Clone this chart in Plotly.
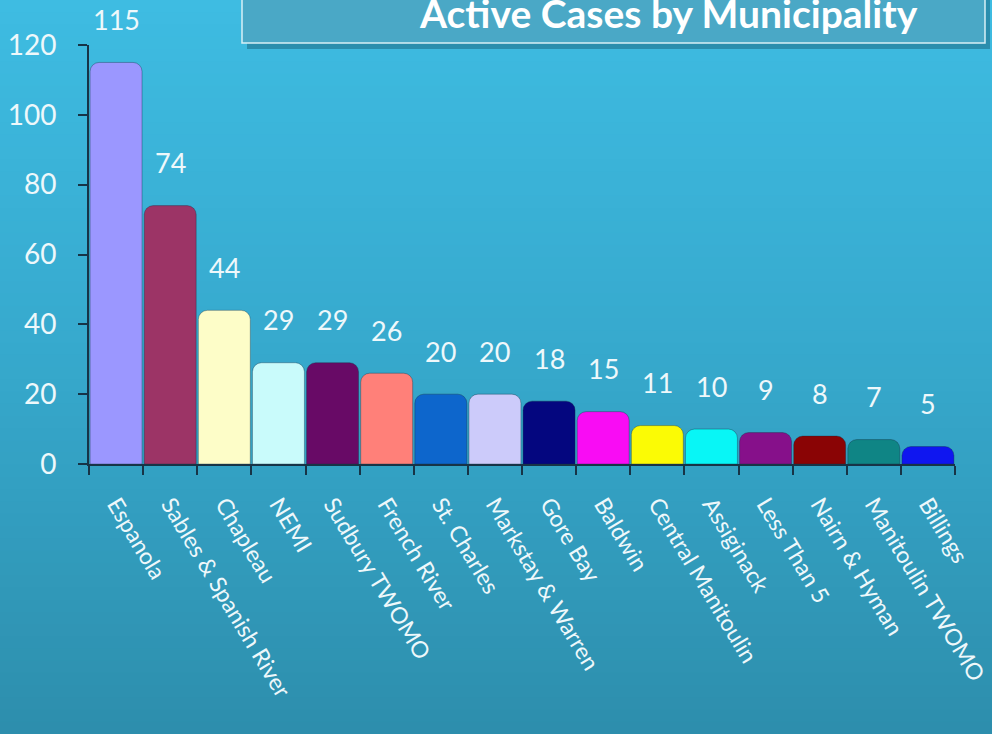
import plotly.graph_objects as go

municipalities = ["Espanola", "Sables & Spanish River", "Chapleau", "NEMI", "Sudbury TWOMO",
                  "French River", "St. Charles", "Markstay & Warren", "Gore Bay", "Baldwin",
                  "Central Manitoulin", "Assiginack", "Less Than 5", "Nairn & Hyman",
                  "Manitoulin TWOMO", "Billings"]
active_cases = [115, 74, 44, 29, 29, 26, 20, 20, 18, 15, 11, 10, 9, 8, 7, 5]
bar_colors = ["#9b97ff", "#9c3466", "#fdfdc8", "#c9fbfb", "#680a66", "#ff8079", "#0d66cc",
              "#cccbfa", "#04067f", "#f90cf4", "#fbfb05", "#08f6f6", "#86108a", "#8a0405",
              "#0f8585", "#0f16f0"]
y_ticks = [0, 20, 40, 60, 80, 100, 120]
title_text = "Active Cases by Municipality"

W, H = 992, 734
ml, mr, mt, mb = 89, 37, 45, 270
pw, ph = W - ml - mr, H - mt - mb

def px_x(px):
    return (px - ml) / pw

def px_y(py):
    return (H - mb - py) / ph

fig = go.Figure()
fig.add_trace(go.Bar(
    x=municipalities, y=active_cases,
    marker=dict(color=bar_colors, line=dict(color="rgba(20,40,60,0.35)", width=1), cornerradius=9),
    hoverinfo="x+y",
))

annotations = []
for m, v in zip(municipalities, active_cases):
    annotations.append(dict(x=m, y=v, text=str(v), showarrow=False, yshift=43,
                            font=dict(family="Lato", size=27, color="#eef8fb")))

annotations.append(dict(xref="paper", yref="paper", x=px_x(668), y=px_y(13), text="<b>" + title_text + "</b>",
                        showarrow=False, font=dict(family="Lato", size=39, color="#ffffff"),
                        xanchor="center", yanchor="middle"))

shapes = []
n = 60
stops = [(0.0, (62, 188, 226)), (0.5, (54, 168, 204)), (1.0, (45, 142, 172))]

def col(t):
    for i in range(len(stops) - 1):
        t0, c0 = stops[i]
        t1, c1 = stops[i + 1]
        if t <= t1:
            f = (t - t0) / (t1 - t0)
            return "rgb(%d,%d,%d)" % tuple(round(a + (b - a) * f) for a, b in zip(c0, c1))
    return "rgb(%d,%d,%d)" % stops[-1][1]

for i in range(n):
    y0 = i * H / n
    y1 = (i + 1) * H / n + 1
    shapes.append(dict(type="rect", xref="paper", yref="paper", layer="below",
                       x0=px_x(-2), x1=px_x(W + 2), y0=px_y(y1), y1=px_y(y0),
                       line=dict(width=0), fillcolor=col((i + 0.5) / n)))

shapes.append(dict(type="rect", xref="paper", yref="paper", layer="below",
                   x0=px_x(247), x1=px_x(990), y0=px_y(49), y1=px_y(-5),
                   line=dict(width=0), fillcolor="rgba(10,60,80,0.35)"))
shapes.append(dict(type="rect", xref="paper", yref="paper", layer="below",
                   x0=px_x(242), x1=px_x(985), y0=px_y(43), y1=px_y(-5),
                   line=dict(width=1.5, color="#d8f0f6"), fillcolor="#4aa8c6"))

fig.update_layout(
    width=W, height=H,
    margin=dict(l=ml, r=mr, t=mt, b=mb, autoexpand=False),
    paper_bgcolor="#3aaed4", plot_bgcolor="rgba(0,0,0,0)",
    bargap=0.04, showlegend=False,
    annotations=annotations, shapes=shapes,
    font=dict(family="Lato", color="#eef8fb"),
    xaxis=dict(showgrid=False, showline=True, linecolor="#173447", linewidth=2, automargin=False,
               ticks="outside", tickson="boundaries", ticklen=9, tickcolor="#173447", tickwidth=2,
               tickangle=59, tickfont=dict(family="Lato", size=23, color="#eef8fb"),
               ticklabelstandoff=16),
    yaxis=dict(range=[0, 120], tickvals=y_ticks, showgrid=False, zeroline=False, automargin=False,
               showline=True, linecolor="#173447", linewidth=2,
               ticks="outside", ticklen=9, tickcolor="#173447", tickwidth=2,
               tickfont=dict(family="Lato", size=28, color="#eef8fb"), ticklabelstandoff=16),
)

fig.write_html("out.html", config={"displayModeBar": False},
               post_script="document.body.style.margin='0';document.body.style.overflow='hidden';")
